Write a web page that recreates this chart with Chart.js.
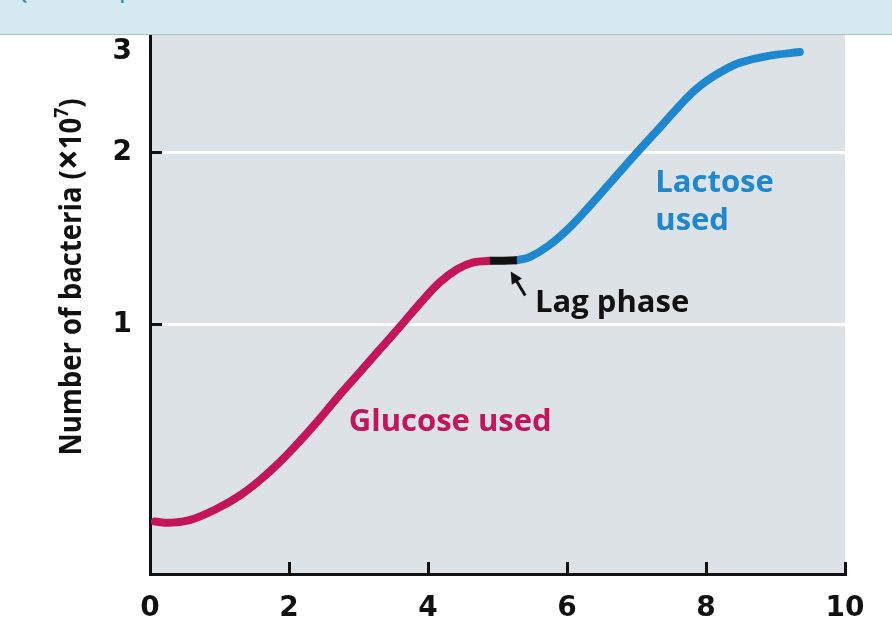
<!DOCTYPE html>
<html>
<head>
<meta charset="utf-8">
<script src="https://cdn.jsdelivr.net/npm/chart.js@4.4.1/dist/chart.umd.min.js"></script>
<style>
  html, body { margin: 0; padding: 0; background: #fff; }
  body { width: 892px; height: 639px; position: relative; overflow: hidden; }
  #banner {
    position: absolute; left: 0; top: 0; width: 892px; height: 34px;
    background: #d4e9f0; border-bottom: 1px solid #aebfc6; z-index: 2; overflow: hidden;
  }
  #banner span {
    position: absolute; left: 16px; top: -16px;
    font: bold 15px "Open Sans", sans-serif; color: #2b8db3;
  }
  #wrap { position: absolute; left: 0; top: 0; width: 892px; height: 639px; }
</style>
</head>
<body>
<div id="banner"><span>Question completion status:</span></div>
<div id="wrap"><canvas id="chart" width="892" height="639"></canvas></div>
<script>
// time (hours) and number of bacteria (x10^7)
const glucoseX = [0.07, 0.29, 0.58, 0.96, 1.29, 1.58, 1.87, 2.16, 2.45, 2.73, 3.02, 3.31, 3.60, 3.88, 4.17, 4.42, 4.65, 4.89]
const glucoseY = [0.452, 0.450, 0.455, 0.476, 0.502, 0.534, 0.575, 0.626, 0.686, 0.753, 0.825, 0.905, 0.992, 1.087, 1.185, 1.249, 1.284, 1.292]

const lagX = [4.89, 5.08, 5.28]
const lagY = [1.292, 1.293, 1.295]

const lactoseX = [5.28, 5.47, 5.74, 6.04, 6.33, 6.58, 6.98, 7.34, 7.73, 7.91, 8.10, 8.30, 8.49, 8.88, 9.35]
const lactoseY = [1.295, 1.313, 1.375, 1.479, 1.613, 1.745, 1.982, 2.213, 2.495, 2.611, 2.713, 2.802, 2.871, 2.947, 2.995]

const xTicks = [0, 2, 4, 6, 8, 10]
const yTicks = [1, 2, 3]
const yGridLines = [1, 2]

const GLUCOSE = "#c4145a"
const LACTOSE = "#1d87d0"
const INK = "#111111"
const PLOT_BG = "#dde2e6"

function toPoints(xs, ys) {
  return xs.map((x, i) => ({ x: x, y: ys[i] }))
}

function lineDataset(label, xs, ys, color, cap) {
  return {
    label: label,
    data: toPoints(xs, ys),
    borderColor: color,
    borderWidth: 8,
    borderCapStyle: cap,
    borderJoinStyle: "round",
    pointRadius: 0,
    tension: 0.4,
    fill: false,
    clip: false
  }
}

const plotBackground = {
  id: "plotBackground",
  beforeDraw(chart) {
    const { ctx, chartArea } = chart
    ctx.save()
    ctx.fillStyle = PLOT_BG
    ctx.fillRect(chartArea.left, chartArea.top, chartArea.right - chartArea.left, chartArea.bottom - chartArea.top)
    ctx.restore()
  }
}

const annotations = {
  id: "annotations",
  afterDraw(chart) {
    const { ctx } = chart
    const xs = chart.scales.x
    const ys = chart.scales.y
    const px = v => xs.getPixelForValue(v)
    const py = v => ys.getPixelForValue(v)

    ctx.save()
    ctx.textBaseline = "alphabetic"
    ctx.textAlign = "left"
    ctx.font = "bold 31px 'Open Sans', sans-serif"

    ctx.fillStyle = GLUCOSE
    ctx.fillText("Glucose used", px(2.86), py(0.652))

    ctx.fillStyle = LACTOSE
    ctx.fillText("Lactose", px(7.27), py(1.703))
    ctx.fillText("used", px(7.27), py(1.461))

    ctx.fillStyle = INK
    ctx.fillText("Lag phase", px(5.54), py(1.05))

    // arrow pointing at the lag segment
    const x1 = px(5.40), y1 = py(1.124)
    const x2 = px(5.19), y2 = py(1.238)
    const ang = Math.atan2(y2 - y1, x2 - x1)
    ctx.strokeStyle = INK
    ctx.lineWidth = 3
    ctx.beginPath()
    ctx.moveTo(x1, y1)
    ctx.lineTo(x2 - 6 * Math.cos(ang), y2 - 6 * Math.sin(ang))
    ctx.stroke()
    ctx.beginPath()
    ctx.moveTo(x2, y2)
    ctx.lineTo(x2 - 12 * Math.cos(ang) + 6 * Math.sin(ang), y2 - 12 * Math.sin(ang) - 6 * Math.cos(ang))
    ctx.lineTo(x2 - 12 * Math.cos(ang) - 6 * Math.sin(ang), y2 - 12 * Math.sin(ang) + 6 * Math.cos(ang))
    ctx.closePath()
    ctx.fill()

    // y axis title, rotated, with a big times sign and a superscript exponent
    const parts = [
      { text: "Number of bacteria (", size: 30, dy: 0 },
      { text: "\u00d7", size: 40, dy: 1 },
      { text: "10", size: 30, dy: 0 },
      { text: "7", size: 19, dy: -13 },
      { text: ")", size: 30, dy: 0 }
    ]
    let total = 0
    for (const p of parts) {
      ctx.font = "bold " + p.size + "px 'Open Sans', sans-serif"
      p.w = ctx.measureText(p.text).width
      total += p.w
    }
    const k = 357 / total
    ctx.translate(81, 277)
    ctx.rotate(-Math.PI / 2)
    ctx.scale(k, 1)
    let x = -total / 2
    for (const p of parts) {
      ctx.font = "bold " + p.size + "px 'Open Sans', sans-serif"
      ctx.fillText(p.text, x, p.dy)
      x += p.w
    }
    ctx.restore()
  }
}

const tickFont = { family: "'DejaVu Sans', sans-serif", weight: "bold", size: 28 }

new Chart(document.getElementById("chart"), {
  type: "line",
  data: {
    datasets: [
      lineDataset("Lag phase", lagX, lagY, INK, "butt"),
      lineDataset("Glucose used", glucoseX, glucoseY, GLUCOSE, "round"),
      lineDataset("Lactose used", lactoseX, lactoseY, LACTOSE, "round")
    ]
  },
  options: {
    responsive: false,
    animation: false,
    layout: { padding: { top: 28, right: 47, left: 0, bottom: 0 } },
    plugins: {
      legend: { display: false },
      tooltip: { enabled: false }
    },
    scales: {
      x: {
        type: "linear",
        min: 0,
        max: 10,
        afterBuildTicks: s => { s.ticks = xTicks.map(v => ({ value: v })) },
        afterFit: s => { s.height = 65; s.paddingLeft = 0; s.paddingRight = 0 },
        border: { display: true, color: INK, width: 3 },
        grid: {
          drawOnChartArea: false,
          tickColor: ctx => (ctx.tick && ctx.tick.value === 0 ? "transparent" : INK),
          tickLength: -12,
          tickWidth: 3
        },
        ticks: {
          color: INK,
          font: tickFont,
          padding: 30,
          maxRotation: 0,
          autoSkip: false,
          callback: v => String(v)
        }
      },
      y: {
        type: "logarithmic",
        min: 0.366,
        max: 3.3,
        afterBuildTicks: s => { s.ticks = yTicks.map(v => ({ value: v })) },
        afterFit: s => { s.width = 150; s.paddingTop = 0; s.paddingBottom = 0 },
        border: { display: true, color: INK, width: 3 },
        grid: {
          color: ctx => (ctx.tick && yGridLines.includes(ctx.tick.value) ? "#ffffff" : "transparent"),
          lineWidth: 3,
          tickColor: ctx => (ctx.tick && yGridLines.includes(ctx.tick.value) ? INK : "transparent"),
          tickLength: -12,
          tickWidth: 3
        },
        ticks: {
          color: INK,
          font: tickFont,
          padding: 30,
          autoSkip: false,
          callback: v => String(v)
        }
      }
    }
  },
  plugins: [plotBackground, annotations]
})
</script>
</body>
</html>
